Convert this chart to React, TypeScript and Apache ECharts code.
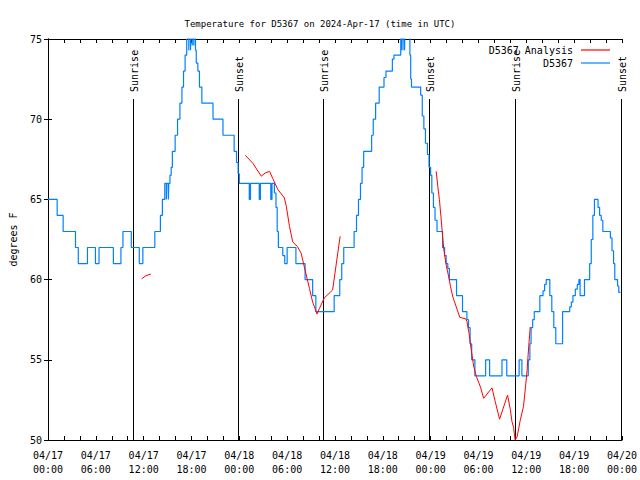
import React, { useEffect, useRef } from 'react';
import * as echarts from 'echarts';

const titleText = 'Temperature for D5367 on 2024-Apr-17 (time in UTC)';
const yAxisName = 'degrees F';
const seriesNames = ['D5367 Analysis', 'D5367'];
const startMonth = '04';
const startDay = 17;

// hours since 2024-04-17 00:00 UTC
const sunEvents: [number, string][] = [
  [10.66, 'Sunrise'], [23.79, 'Sunset'], [34.54, 'Sunrise'],
  [47.79, 'Sunset'], [58.54, 'Sunrise'], [71.84, 'Sunset'],
];

// observed temperature (step data: value holds from this hour on)
const observed: [number, number][] = [
  [0, 65], [1.15, 64], [1.9, 63], [3.45, 62], [3.8, 61], [4.95, 62], [5.95, 61], [6.4, 62],
  [8.2, 61], [9.15, 62], [9.4, 63], [10.45, 62], [11.45, 61], [11.9, 62], [13.4, 63], [14.1, 64],
  [14.35, 65], [14.65, 66], [14.85, 65], [14.9, 66], [15.1, 65], [15.15, 66], [15.3, 66.5],
  [15.45, 67], [15.6, 68], [15.95, 69], [16.25, 70], [16.55, 71], [16.8, 72], [17.0, 73], [17.2, 74],
  [17.4, 75], [17.5, 76], [17.66, 74.3], [17.7, 76], [17.88, 74.3], [17.91, 76], [18.09, 74.6],
  [18.13, 76], [18.29, 74.6], [18.33, 76], [18.5, 74.3], [18.6, 73.5], [18.8, 73], [19.0, 72],
  [19.3, 71], [20.7, 70], [21.95, 69], [23.35, 68], [23.65, 67.3], [23.85, 66.6], [24.0, 66],
  [25.25, 65], [25.4, 66], [26.5, 65], [26.65, 66], [27.95, 65], [28.1, 66], [28.4, 65.4],
  [28.6, 64.5], [28.75, 63], [28.9, 62], [29.45, 61.5], [29.7, 61], [30.0, 62], [31.1, 61],
  [32.25, 60], [33.2, 59], [33.6, 58], [35.9, 59], [36.6, 60], [36.85, 61], [37.1, 62], [38.4, 63],
  [38.7, 64], [38.95, 65], [39.2, 66], [39.4, 67], [39.6, 68], [40.6, 69], [40.8, 70], [41.1, 71],
  [41.55, 72], [42.15, 72.6], [42.4, 73], [43.2, 73.75], [43.4, 74], [44.25, 76], [44.33, 74.3],
  [44.38, 76], [44.53, 74.3], [44.58, 76], [44.73, 74.3], [44.78, 76], [45.4, 74], [45.5, 72.5],
  [45.6, 72], [46.75, 71.5], [46.95, 70.2], [47.15, 69.4], [47.35, 68.5], [47.6, 67.8], [47.8, 67],
  [48.0, 66.5], [48.15, 65.4], [48.35, 64.5], [48.55, 63.7], [48.8, 63], [49.5, 62], [49.75, 61.5],
  [49.95, 61], [50.15, 60.7], [50.35, 60], [51.25, 59], [52.0, 58], [52.55, 57.5], [52.75, 57],
  [52.95, 56], [53.15, 55], [53.55, 54], [54.9, 55], [55.4, 54], [56.95, 55], [57.55, 54],
  [59.1, 55], [59.45, 54], [60.25, 55], [60.45, 56], [60.6, 57], [60.8, 57.5], [61.0, 58],
  [61.7, 59], [62.1, 59.3], [62.3, 59.7], [62.5, 60], [62.95, 59], [63.2, 58], [63.45, 57],
  [63.7, 56], [64.55, 58], [65.45, 58.3], [65.65, 58.6], [65.85, 59], [66.15, 59.4], [66.4, 59.7],
  [66.6, 60], [66.75, 59], [67.3, 60], [67.95, 61], [68.15, 62.5], [68.35, 64], [68.55, 65],
  [69.0, 64.5], [69.2, 64], [69.4, 63.7], [69.6, 63], [70.55, 62.6], [70.75, 61.8], [70.95, 61],
  [71.1, 60], [71.45, 59.6], [71.6, 59.2], [71.8, 59.2],
];

// analysis temperature (null = gap)
const analysis: [number, number | null][] = [
  [11.75, 60.05], [12.3, 60.25], [12.9, 60.35], [13.0, null],
  [24.75, 67.75], [25.7, 67.25], [26.75, 66.45], [27.25, 66.65], [27.8, 66.75], [28.2, 66.3],
  [28.85, 65.6], [29.65, 65.1], [29.9, 64.55], [30.3, 63.3], [30.7, 62.35], [31.3, 62.05],
  [31.75, 61.65], [32.15, 60.8], [32.8, 59.45], [33.2, 58.6], [33.75, 57.85], [34.05, 58.2],
  [34.65, 58.85], [35.7, 59.35], [36.0, 60.4], [36.35, 61.65], [36.65, 62.7], [37.0, null],
  [48.7, 66.75], [48.9, 65.8], [49.1, 65.0], [49.3, 63.9], [49.5, 62.7], [49.65, 61.9],
  [49.95, 60.9], [50.3, 60.1], [50.5, 59.55], [50.8, 58.9], [51.35, 58.1], [51.65, 57.65],
  [52.4, 57.55], [52.55, 57.4], [52.8, 56.7], [53.1, 55.6], [53.4, 54.6], [53.75, 53.95],
  [54.25, 53.3], [54.65, 52.6], [55.7, 53.25], [56.1, 52.4], [56.65, 51.3], [57.65, 52.8],
  [58.0, 51.9], [58.2, 51.15], [58.4, 50.8], [58.6, 50.0], [58.85, 50.2], [59.25, 51.25],
  [59.65, 52.1], [59.9, 53.3], [60.1, 54.35], [60.3, 55.8], [60.5, 57.05],
];

const FONT = '"DejaVu Sans Mono", "Liberation Mono", monospace';
const SUN_TOP = 71.26;

const pad = (n: number) => (n < 10 ? '0' + n : '' + n);

export default function App() {
  const ref = useRef<HTMLDivElement>(null);
  useEffect(() => {
    if (!ref.current) return;
    const chart = echarts.init(ref.current, undefined, { renderer: 'svg' });
    const axisCommon = {
      type: 'value' as const,
      axisLine: { show: true, lineStyle: { color: '#000', width: 1 } },
      axisTick: { show: true, inside: true, length: 4, lineStyle: { color: '#000' } },
      splitLine: { show: false },
    };
    chart.setOption({
      animation: false,
      backgroundColor: '#fff',
      title: {
        text: titleText,
        left: 'center',
        top: 14,
        textStyle: { fontFamily: FONT, fontSize: 9, fontWeight: 'normal', color: '#000' },
      },
      legend: {
        data: seriesNames,
        orient: 'vertical',
        right: 30,
        top: 45,
        align: 'right',
        padding: 0,
        icon: 'rect',
        itemWidth: 29,
        itemHeight: 1.2,
        itemGap: 3,
        textStyle: { fontFamily: FONT, fontSize: 10, color: '#000', padding: [0, 3, 0, 0] },
      },
      grid: { left: 46, right: 18, top: 39, bottom: 40 },
      xAxis: [
        {
          ...axisCommon,
          min: 0,
          max: 72,
          interval: 2,
          position: 'bottom',
          axisLabel: {
            show: true,
            margin: 8,
            fontFamily: FONT,
            fontSize: 10,
            lineHeight: 14,
            color: '#000',
            formatter: (v: number) => {
              if (v % 6 !== 0) return '';
              const day = startDay + Math.floor(v / 24);
              const hh = v % 24;
              return `${startMonth}/${pad(day)}\n${pad(hh)}:00`;
            },
          },
        },
        {
          ...axisCommon,
          min: 0,
          max: 72,
          interval: 2,
          position: 'top',
          axisLabel: { show: false },
        },
      ],
      yAxis: [
        {
          ...axisCommon,
          min: 50,
          max: 75,
          interval: 5,
          position: 'left',
          name: yAxisName,
          nameLocation: 'middle',
          nameGap: 30,
          nameTextStyle: { fontFamily: FONT, fontSize: 10, color: '#000' },
          axisLabel: { show: true, margin: 6, fontFamily: FONT, fontSize: 10, color: '#000' },
        },
        {
          ...axisCommon,
          min: 50,
          max: 75,
          interval: 5,
          position: 'right',
          axisLabel: { show: false },
        },
      ],
      series: [
        {
          type: 'custom',
          name: 'sun',
          coordinateSystem: 'cartesian2d',
          silent: true,
          data: sunEvents.map((e) => [e[0], SUN_TOP]),
          renderItem: (params: any, api: any) => {
            const h = api.value(0);
            const base = api.coord([h, 50]);
            const top = api.coord([h, SUN_TOP]);
            const x = Math.round(base[0]) + 0.5;
            return {
              type: 'group',
              children: [
                {
                  type: 'line',
                  shape: { x1: x, y1: base[1], x2: x, y2: top[1] },
                  style: { stroke: '#000', lineWidth: 1 },
                },
                {
                  type: 'text',
                  x: x + 1,
                  y: top[1] - 7,
                  rotation: Math.PI / 2,
                  style: {
                    text: sunEvents[params.dataIndex][1],
                    fill: '#000',
                    font: `10px ${FONT}`,
                    align: 'left',
                    verticalAlign: 'middle',
                  },
                },
              ],
            };
          },
          z: 1,
        },
        {
          type: 'line',
          name: seriesNames[1],
          data: observed,
          step: 'end',
          symbol: 'none',
          showSymbol: false,
          clip: true,
          lineStyle: { color: '#0080ff', width: 1.2 },
          itemStyle: { color: '#0080ff' },
          z: 2,
        },
        {
          type: 'line',
          name: seriesNames[0],
          data: analysis,
          symbol: 'none',
          showSymbol: false,
          connectNulls: false,
          clip: true,
          lineStyle: { color: '#ff0000', width: 1 },
          itemStyle: { color: '#ff0000' },
          z: 3,
        },
      ],
    });
    return () => chart.dispose();
  }, []);
  return (
    <div
      ref={ref}
      style={{ position: 'absolute', left: 0, top: 0, width: 640, height: 480 }}
    />
  );
}
